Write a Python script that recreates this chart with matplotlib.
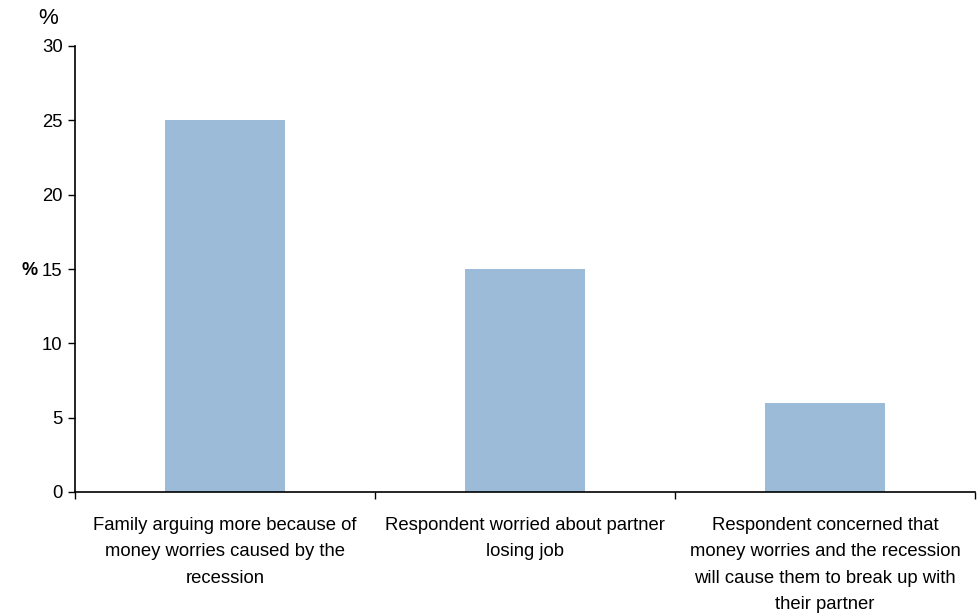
import numpy as np
import matplotlib.pyplot as plt

plt.rcParams['font.family'] = ['Liberation Sans', 'DejaVu Sans']

categories = [
    'Family arguing more because of\nmoney worries caused by the\nrecession',
    'Respondent worried about partner\nlosing job',
    'Respondent concerned that\nmoney worries and the recession\nwill cause them to break up with\ntheir partner',
]
values = [25, 15, 6]
yticks = [0, 5, 10, 15, 20, 25, 30]

fig = plt.figure(figsize=(9.8, 6.14), dpi=100)
ax = fig.add_axes([75 / 980, 122 / 614, 900 / 980, 446 / 614])

x = np.arange(len(categories))
ax.bar(x, values, width=0.4, color='#9bbbd9')

ax.set_xlim(-0.5, len(categories) - 0.5)
ax.set_ylim(0, 30)
ax.set_yticks(yticks)
ax.tick_params(axis='y', labelsize=13.3, length=5, width=1, direction='out', pad=4)

ax.set_xticks(x)
ax.set_xticklabels(categories, fontsize=13.3, linespacing=1.72, va='top')
ax.tick_params(axis='x', which='major', length=0, pad=18)
ax.set_xticks(np.arange(-0.5, len(categories)), minor=True)
ax.tick_params(axis='x', which='minor', length=5, width=1, direction='out')

for s in ['top', 'right']:
    ax.spines[s].set_visible(False)
for s in ['left', 'bottom']:
    ax.spines[s].set_linewidth(1.2)

ax.set_ylabel('%', fontsize=13, fontweight='bold', rotation=0, va='center', ha='center')
ax.yaxis.set_label_coords(-0.05, 0.497)
fig.text(48 / 980, 1 - 18 / 614, '%', fontsize=16, ha='center', va='center')

fig.savefig('out.png', dpi=100)
